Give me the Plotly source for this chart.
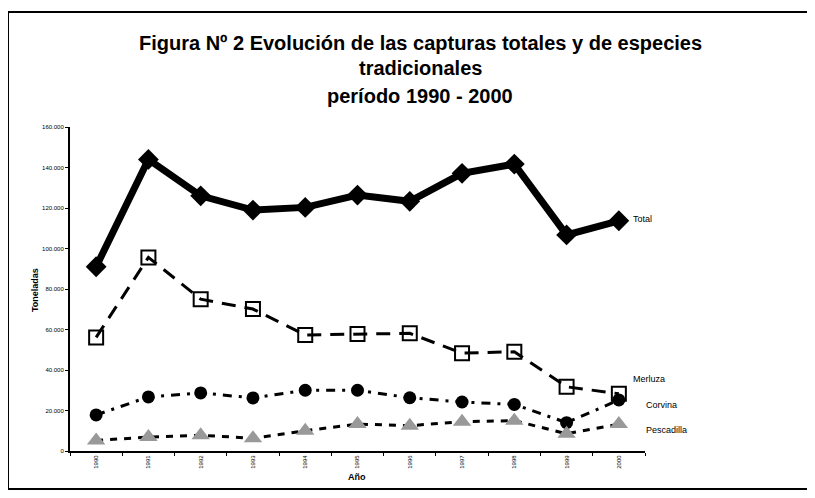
import plotly.graph_objects as go

years = ["1990", "1991", "1992", "1993", "1994", "1995", "1996", "1997", "1998", "1999", "2000"]
total = [91000, 144000, 126000, 119000, 120300, 126400, 123300, 137100, 141700, 106700, 113700]
merluza = [56100, 95600, 75000, 70100, 57300, 57800, 58100, 48300, 49000, 31700, 28300]
corvina = [17800, 26700, 28700, 26200, 30000, 30000, 26300, 24200, 23000, 14000, 25200]
pescadilla = [5200, 6900, 7800, 6300, 10000, 13300, 12500, 14500, 15000, 8500, 13300]
series_names = ["Total", "Merluza", "Corvina", "Pescadilla"]
y_tick_vals = [0, 20000, 40000, 60000, 80000, 100000, 120000, 140000, 160000]
y_tick_text = ["0", "20.000", "40.000", "60.000", "80.000", "100.000", "120.000", "140.000", "160.000"]
title_lines = ["Figura Nº 2 Evolución de las capturas totales y de especies", "tradicionales", "período 1990 - 2000"]

# the page body adds an 8px margin; work in screen pixels and shift
OFF = 8
W, H = 815 - OFF, 498 - 2 * OFF
L, R, T, B = 70 - OFF, 645 - OFF, 127 - OFF, 451 - OFF
pw, ph = R - L, B - T


def px_x(x):
    return (x - OFF - L) / pw


def px_y(y):
    return (B - (y - OFF)) / ph


FONT = "Arial, Liberation Sans, sans-serif"

fig = go.Figure()
fig.add_trace(go.Scatter(x=years, y=total, mode="lines+markers", name=series_names[0],
                         line=dict(color="black", width=7),
                         marker=dict(symbol="diamond", size=16, color="black")))
fig.add_trace(go.Scatter(x=years, y=merluza, mode="lines+markers", name=series_names[1],
                         line=dict(color="black", width=3, dash="14px,9px"),
                         marker=dict(symbol="square-open", size=14, color="black", line=dict(width=2))))
fig.add_trace(go.Scatter(x=years, y=corvina, mode="lines+markers", name=series_names[2],
                         line=dict(color="black", width=3, dash="9px,7px,3px,7px"),
                         marker=dict(symbol="circle", size=13, color="black")))
fig.add_trace(go.Scatter(x=years, y=pescadilla, mode="lines+markers", name=series_names[3],
                         line=dict(color="black", width=3, dash="7px,7px"),
                         marker=dict(symbol="triangle-up", size=16, color="#999999")))

annotations = []
title_y = [43, 68, 96]
for txt, ty in zip(title_lines, title_y):
    annotations.append(dict(text="<b>" + txt + "</b>", x=px_x(420), y=px_y(ty), xref="paper", yref="paper",
                            xanchor="center", yanchor="middle", showarrow=False,
                            font=dict(family=FONT, size=20, color="black")))
label_pos = [(631, 219), (631, 379), (644, 405), (644, 430)]
for name, (lx, ly) in zip(series_names, label_pos):
    annotations.append(dict(text=name, x=px_x(lx), y=px_y(ly), xref="paper", yref="paper",
                            xanchor="left", yanchor="middle", showarrow=False,
                            font=dict(family=FONT, size=9, color="black")))
annotations.append(dict(text="<b>Toneladas</b>", x=px_x(35), y=px_y(290), xref="paper", yref="paper",
                        xanchor="center", yanchor="middle", showarrow=False, textangle=-90,
                        font=dict(family=FONT, size=9, color="black")))
annotations.append(dict(text="<b>Año</b>", x=px_x(357), y=px_y(477), xref="paper", yref="paper",
                        xanchor="center", yanchor="middle", showarrow=False,
                        font=dict(family=FONT, size=9, color="black")))

fig.update_layout(
    width=W, height=H,
    margin=dict(l=L, r=W - R, t=T, b=H - B, pad=0),
    paper_bgcolor="white", plot_bgcolor="white",
    showlegend=False,
    font=dict(family=FONT, color="black"),
    annotations=annotations,
    shapes=[dict(type="rect", xref="paper", yref="paper",
                 x0=px_x(8), x1=px_x(812), y0=px_y(489), y1=px_y(12),
                 line=dict(color="black", width=2), fillcolor="rgba(0,0,0,0)", layer="below")],
)
fig.update_xaxes(type="category", range=[-0.5, 10.5], showline=True, linecolor="black", linewidth=2,
                 showgrid=False, zeroline=False, ticks="outside", ticklen=3, tickwidth=1, tickcolor="black",
                 tickson="boundaries", tickangle=-90, tickfont=dict(size=6, family=FONT, color="black"))
fig.update_yaxes(range=[0, 160000], showline=True, linecolor="black", linewidth=2,
                 showgrid=False, zeroline=False, ticks="outside", ticklen=3, tickwidth=1, tickcolor="black",
                 tickvals=y_tick_vals, ticktext=y_tick_text, tickfont=dict(size=6, family=FONT, color="black"))

fig.write_html("out.html")
